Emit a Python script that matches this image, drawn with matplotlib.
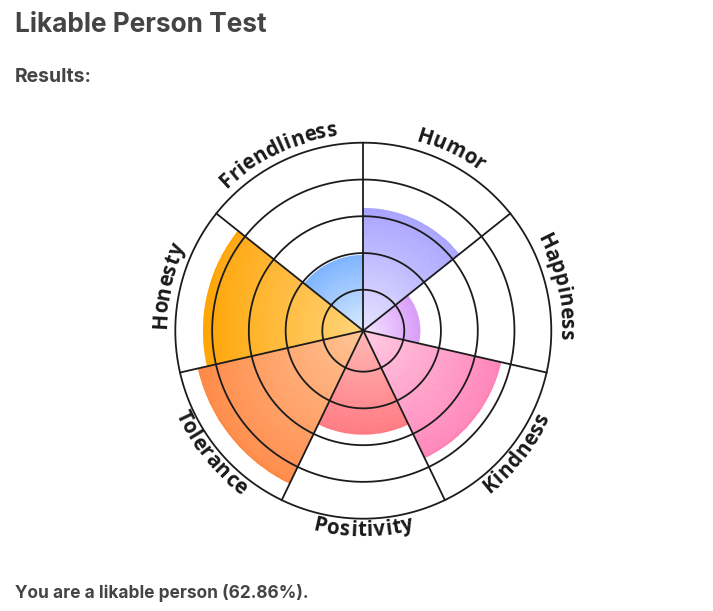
import numpy as np
import matplotlib
matplotlib.use("Agg")
import matplotlib.pyplot as plt
from matplotlib.colors import LinearSegmentedColormap
from matplotlib.font_manager import FontProperties

# ---------------- data ----------------
categories = ["Humor", "Happiness", "Kindness", "Positivity",
              "Tolerance", "Honesty", "Friendliness"]
values = [65, 30, 75, 55, 90, 85, 40]
ring_levels = [21.8, 41.3, 60.9, 80.4, 100]
edge_colors = ["#a9a4ff", "#d99ef8", "#ff83b9", "#ff7c84",
               "#ff8843", "#ffa506", "#7fb5ff"]
center_colors = ["#e6e4ff", "#f6e6ff", "#ffcde3", "#ffbab6",
                 "#ffc698", "#ffd67c", "#dcecff"]
title = "Likable Person Test"
subtitle = "Results:"
score = np.mean(values)
footer = f"You are a likable person ({score:.2f}%)."

# ---------------- figure ----------------
W, H = 713, 611
DPI = 100
fig = plt.figure(figsize=(W / DPI, H / DPI), dpi=DPI)
fig.patch.set_facecolor("white")

cx, cy, R = 363.3, 330.7, 188.0  # pixel geometry of the wheel
ax = fig.add_axes([(cx - R) / W, (H - cy - R) / H, 2 * R / W, 2 * R / H],
                  projection="polar")
ax.set_theta_zero_location("N")
ax.set_theta_direction(-1)
ax.set_ylim(0, 100)
ax.set_axis_off()

n = len(categories)
step = 2 * np.pi / n
line_col = "#1c1c1c"
lw = 1.3

# gradient sectors
for i, (v, ce, cc) in enumerate(zip(values, edge_colors, center_colors)):
    th = np.linspace(i * step, (i + 1) * step, 80)
    rr = np.linspace(0, v, 100)
    TH, RR = np.meshgrid(th, rr)
    C = 0.5 * (RR[:-1, :-1] + RR[1:, 1:]) / v
    cmap = LinearSegmentedColormap.from_list(f"c{i}", [cc, ce])
    ax.pcolormesh(TH, RR, C, cmap=cmap, vmin=0, vmax=1, shading="flat",
                  edgecolors="face", linewidth=0.25, antialiased=True,
                  zorder=1)
    # smooth (antialiased) outer arc of the sector
    tha = np.linspace(i * step, (i + 1) * step, 120)
    ax.plot(tha, np.full_like(tha, v - 0.25), color=ce, lw=1.4,
            zorder=2, solid_capstyle="butt")

# rings
full = np.linspace(0, 2 * np.pi, 400)
for lev in ring_levels:
    ax.plot(full, np.full_like(full, lev), color=line_col, lw=lw,
            zorder=3, clip_on=False, solid_capstyle="round")
# spokes
for i in range(n):
    ax.plot([i * step, i * step], [0, 100], color=line_col, lw=lw,
            zorder=3, clip_on=False)

# ---------------- curved labels ----------------
label_font = FontProperties(family="Open Sans", weight="bold", size=14.8)
renderer = fig.canvas.get_renderer()


def tw(s):
    if not s:
        return 0.0
    w, h, d = renderer.get_text_width_height_descent(s, label_font, ismath=False)
    return w


px2r = 100.0 / R
cap_px = 14.5
ls = 0.5  # letter spacing, px
for i, lab in enumerate(categories):
    mid_theta = (i + 0.5) * step          # polar theta (N, clockwise)
    phi_mid = np.pi / 2 - mid_theta       # math angle
    phi_mid = (phi_mid + np.pi) % (2 * np.pi) - np.pi
    inward = phi_mid < -0.3               # bottom labels read left-to-right
    total = tw(lab) + ls * (len(lab) - 1)
    if inward:
        rb = 205.5
        rmid = rb - cap_px / 2
    else:
        rb = 197.0
        rmid = rb + cap_px / 2
    for k, ch in enumerate(lab):
        left = tw(lab[:k]) + ls * k
        wk = tw(lab[:k + 1]) - tw(lab[:k])
        d = left + wk / 2 - total / 2
        dphi = d / rmid
        if inward:
            phi = phi_mid + dphi
            rot = np.degrees(phi) + 90
        else:
            phi = phi_mid - dphi
            rot = np.degrees(phi) - 90
        theta = np.pi / 2 - phi
        ax.text(theta, rb * px2r, ch, fontproperties=label_font,
                rotation=rot, rotation_mode="anchor", ha="center",
                va="baseline", color="#1a1a1a", zorder=5)

# ---------------- header / footer texts ----------------
hdr_family = ["Inter", "DejaVu Sans"]


def fit_text(s, x_px, base_px, width_px, weight, color="#444444"):
    fp = FontProperties(family=hdr_family, weight=weight, size=20)
    w, h, d = renderer.get_text_width_height_descent(s, fp, ismath=False)
    size = 20 * width_px / w
    fig.text(x_px / W, 1 - base_px / H, s, fontsize=size, weight=weight,
             family=hdr_family, color=color, ha="left", va="baseline")


fit_text(title, 15, 31.7, 252, "bold")
fit_text(subtitle, 15, 81.5, 77, "bold")
fit_text(footer, 15, 598.3, 293, "bold")

fig.savefig("out.png", dpi=DPI, facecolor="white")
